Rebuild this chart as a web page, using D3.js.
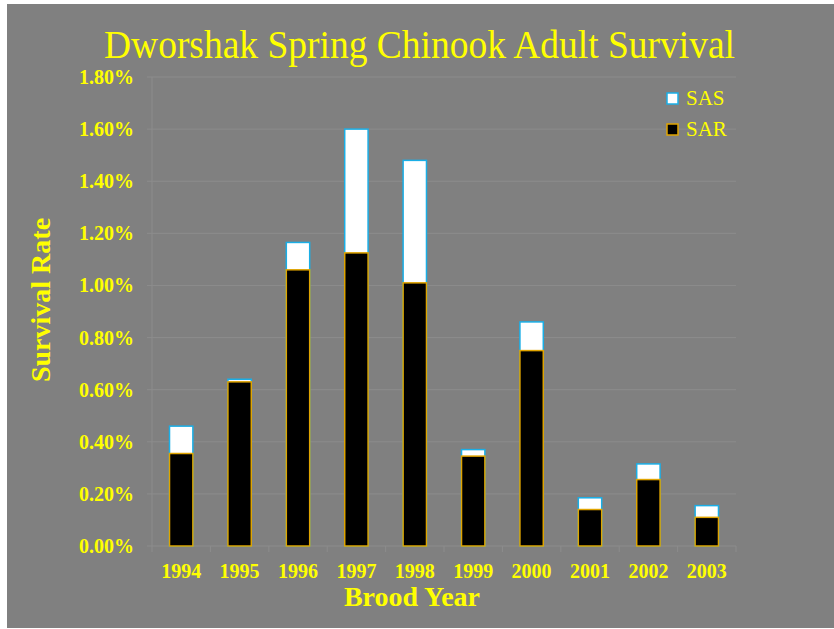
<!DOCTYPE html>
<html>
<head>
<meta charset="utf-8">
<script src="https://cdn.jsdelivr.net/npm/d3@7"></script>
<style>
  body { margin: 0; background: #ffffff; }
  svg { display: block; }
</style>
</head>
<body>
<div id="chart"></div>
<script>
// brood years and survival rates (percent)
var years = ["1994", "1995", "1996", "1997", "1998", "1999", "2000", "2001", "2002", "2003"];
var sas = [0.46, 0.64, 1.165, 1.60, 1.48, 0.37, 0.86, 0.185, 0.315, 0.155];
var sar = [0.355, 0.63, 1.06, 1.125, 1.01, 0.345, 0.75, 0.14, 0.255, 0.11];
var yTicks = [0, 0.2, 0.4, 0.6, 0.8, 1.0, 1.2, 1.4, 1.6, 1.8];

var W = 834, H = 629;
var yellow = "#ffff00";
var font = "'Liberation Serif', serif";

var svg = d3.select("#chart").append("svg")
    .attr("width", W)
    .attr("height", H);

// grey chart area
svg.append("rect")
    .attr("x", 7).attr("y", 4)
    .attr("width", W - 7).attr("height", 624)
    .attr("fill", "#808080");

var plotLeft = 152, plotRight = 736, plotTop = 77, plotBottom = 546;

var x = d3.scaleBand()
    .domain(years)
    .range([plotLeft, plotRight])
    .paddingInner(0.6)
    .paddingOuter(0.3);

var y = d3.scaleLinear()
    .domain([0, 1.8])
    .range([plotBottom, plotTop]);

// gridlines
svg.append("g")
    .selectAll("line")
    .data(yTicks)
    .join("line")
    .attr("x1", plotLeft - 5)
    .attr("x2", plotRight)
    .attr("y1", d => y(d))
    .attr("y2", d => y(d))
    .attr("stroke", "#8c8c8c")
    .attr("stroke-width", 1);

// value axis line
svg.append("line")
    .attr("x1", plotLeft).attr("x2", plotLeft)
    .attr("y1", plotTop).attr("y2", plotBottom)
    .attr("stroke", "#8c8c8c");

// category ticks
svg.append("g")
    .selectAll("line")
    .data(d3.range(years.length + 1))
    .join("line")
    .attr("x1", i => plotLeft + i * x.step())
    .attr("x2", i => plotLeft + i * x.step())
    .attr("y1", plotBottom)
    .attr("y2", plotBottom + 6)
    .attr("stroke", "#8c8c8c");

// y tick labels
svg.append("g")
    .selectAll("text")
    .data(yTicks)
    .join("text")
    .attr("x", 134)
    .attr("y", d => y(d))
    .attr("dy", "0.35em")
    .attr("text-anchor", "end")
    .attr("font-family", font)
    .attr("font-weight", "bold")
    .attr("font-size", 20)
    .attr("fill", yellow)
    .text(d => d.toFixed(2) + "%");

// x tick labels
svg.append("g")
    .selectAll("text")
    .data(years)
    .join("text")
    .attr("x", d => x(d) + x.bandwidth() / 2)
    .attr("y", 578)
    .attr("text-anchor", "middle")
    .attr("font-family", font)
    .attr("font-weight", "bold")
    .attr("font-size", 20)
    .attr("fill", yellow)
    .text(d => d);

// SAS bars (behind)
svg.append("g")
    .selectAll("rect")
    .data(years)
    .join("rect")
    .attr("x", d => x(d))
    .attr("y", (d, i) => y(sas[i]))
    .attr("width", x.bandwidth())
    .attr("height", (d, i) => y(0) - y(sas[i]))
    .attr("fill", "#ffffff")
    .attr("stroke", "#1aaee6")
    .attr("stroke-width", 1.5);

// SAR bars (front)
svg.append("g")
    .selectAll("rect")
    .data(years)
    .join("rect")
    .attr("x", d => x(d))
    .attr("y", (d, i) => y(sar[i]))
    .attr("width", x.bandwidth())
    .attr("height", (d, i) => y(0) - y(sar[i]))
    .attr("fill", "#000000")
    .attr("stroke", "#e0a400")
    .attr("stroke-width", 1.5);

// title (glyphs a bit narrow, like the original)
svg.append("text")
    .attr("x", 104)
    .attr("y", 58)
    .attr("font-family", font)
    .attr("font-size", 41)
    .attr("textLength", 631)
    .attr("lengthAdjust", "spacingAndGlyphs")
    .attr("fill", yellow)
    .text("Dworshak Spring Chinook Adult Survival");

// axis titles
svg.append("text")
    .attr("transform", "translate(50,300) rotate(-90)")
    .attr("text-anchor", "middle")
    .attr("font-family", font)
    .attr("font-weight", "bold")
    .attr("font-size", 28)
    .attr("fill", yellow)
    .text("Survival Rate");

svg.append("text")
    .attr("x", 412)
    .attr("y", 606)
    .attr("text-anchor", "middle")
    .attr("font-family", font)
    .attr("font-weight", "bold")
    .attr("font-size", 28)
    .attr("fill", yellow)
    .text("Brood Year");

// legend
var legend = [
    { name: "SAS", fill: "#ffffff", stroke: "#1aaee6", y: 98 },
    { name: "SAR", fill: "#000000", stroke: "#e0a400", y: 129 }
];
var lg = svg.append("g").selectAll("g").data(legend).join("g");
lg.append("rect")
    .attr("x", 667)
    .attr("y", d => d.y - 5)
    .attr("width", 11)
    .attr("height", 11)
    .attr("fill", d => d.fill)
    .attr("stroke", d => d.stroke)
    .attr("stroke-width", 1.5);
lg.append("text")
    .attr("x", 686)
    .attr("y", d => d.y)
    .attr("dy", "0.35em")
    .attr("font-family", font)
    .attr("font-size", 21)
    .attr("fill", yellow)
    .text(d => d.name);
</script>
</body>
</html>
